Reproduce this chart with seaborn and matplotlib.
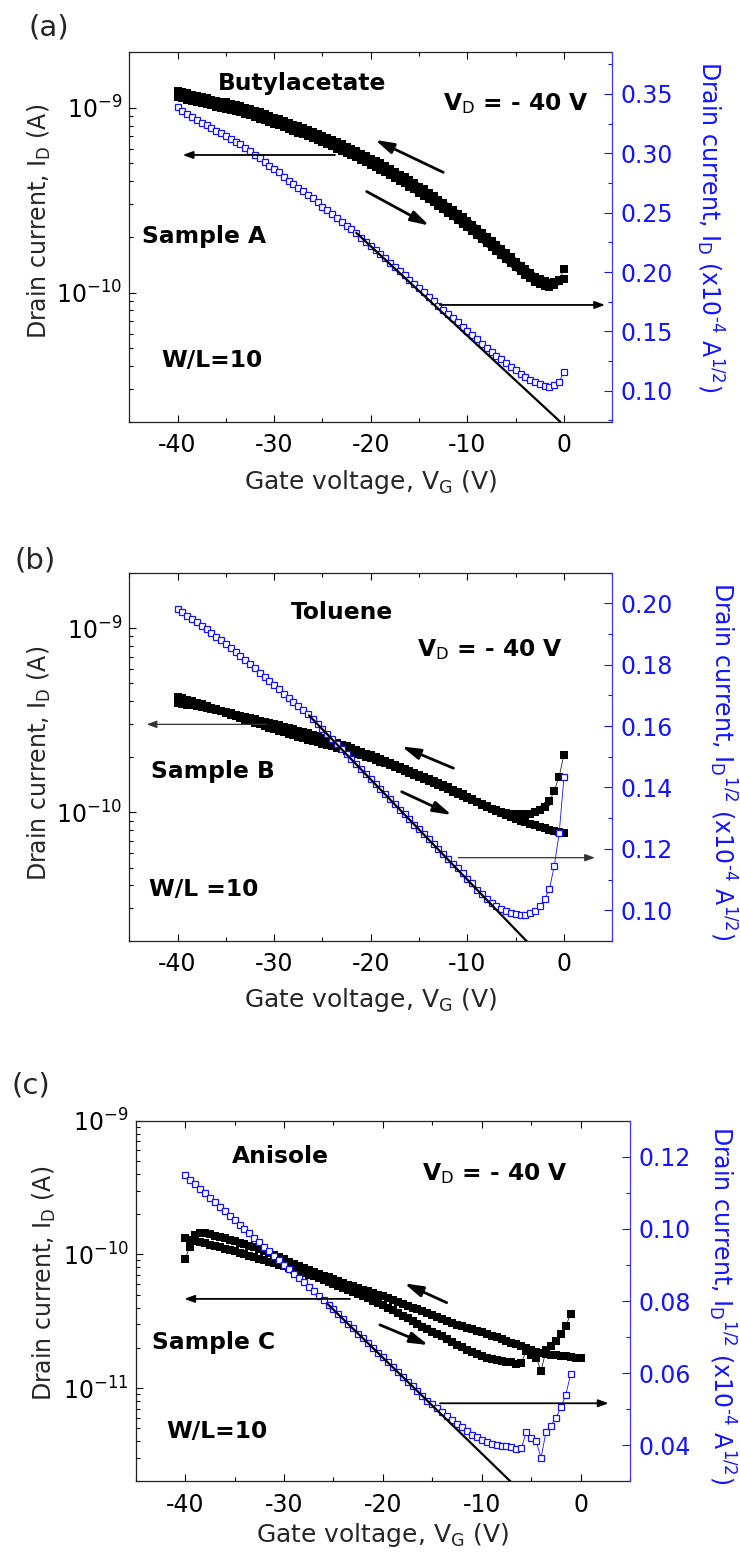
import numpy as np
import pandas as pd
import matplotlib
matplotlib.use("Agg")
import matplotlib.pyplot as plt
import seaborn as sns
from matplotlib.ticker import MultipleLocator, LogLocator, NullFormatter, FormatStrFormatter

# ---------------- data ----------------
# gate-voltage sweep grid (V)
vg = np.arange(-40.0, 0.25, 0.5)

# (a) Butylacetate: sqrt(I_D) in 1e-4 A^1/2 (blue) and other sweep I_D in 1e-10 A
a_sqrt = [0.3393, 0.3357, 0.3329, 0.3301, 0.3278, 0.3258, 0.3239, 0.3211, 0.3188, 0.3169,
          0.3146, 0.3118, 0.3098, 0.3076, 0.3048, 0.3020, 0.2986, 0.2958, 0.2924, 0.2893,
          0.2865, 0.2840, 0.2803, 0.2770, 0.2744, 0.2711, 0.2683, 0.2649, 0.2621, 0.2587,
          0.2551, 0.2522, 0.2486, 0.2452, 0.2424, 0.2390, 0.2360, 0.2326, 0.2289, 0.2256,
          0.2219, 0.2185, 0.2149, 0.2115, 0.2079, 0.2042, 0.2008, 0.1975, 0.1935, 0.1902,
          0.1862, 0.1829, 0.1789, 0.1756, 0.1716, 0.1680, 0.1643, 0.1610, 0.1576, 0.1537,
          0.1503, 0.1469, 0.1433, 0.1396, 0.1360, 0.1329, 0.1295, 0.1264, 0.1230, 0.1202,
          0.1171, 0.1143, 0.1118, 0.1093, 0.1070, 0.1053, 0.1039, 0.1034, 0.1048, 0.1076,
          0.1160]
a_rev = [12.4, 12.2, 12.0, 11.8, 11.6, 11.45, 11.3, 11.1, 10.95, 10.8,
         10.7, 10.5, 10.35, 10.2, 10.0, 9.85, 9.65, 9.45, 9.25, 9.05,
         8.85, 8.7, 8.5, 8.3, 8.1, 7.95, 7.75, 7.6, 7.4, 7.2,
         7.05, 6.85, 6.7, 6.5, 6.35, 6.15, 6.0, 5.85, 5.65, 5.5,
         5.3, 5.15, 5.0, 4.85, 4.67, 4.5, 4.35, 4.2, 4.05, 3.9,
         3.75, 3.62, 3.46, 3.33, 3.18, 3.05, 2.92, 2.8, 2.68, 2.55,
         2.44, 2.33, 2.21, 2.1, 2.0, 1.91, 1.81, 1.72, 1.63, 1.55,
         1.47, 1.4, 1.34, 1.28, 1.22, 1.18, 1.15, 1.13, 1.14, 1.17,
         1.18]
fit_a_v = [-21.5, -0.4]
fit_a_s = [0.233, 0.074]

# (b) Toluene
b_sqrt = [0.1982, 0.1971, 0.1960, 0.1949, 0.1938, 0.1926, 0.1915, 0.1903, 0.1891, 0.1879,
          0.1867, 0.1854, 0.1841, 0.1828, 0.1814, 0.1801, 0.1788, 0.1774, 0.1761, 0.1747,
          0.1733, 0.1720, 0.1706, 0.1693, 0.1679, 0.1665, 0.1652, 0.1638, 0.1623, 0.1607,
          0.1590, 0.1574, 0.1558, 0.1541, 0.1525, 0.1509, 0.1492, 0.1476, 0.1459, 0.1443,
          0.1427, 0.1410, 0.1394, 0.1378, 0.1361, 0.1345, 0.1328, 0.1312, 0.1296, 0.1279,
          0.1264, 0.1247, 0.1231, 0.1215, 0.1200, 0.1184, 0.1168, 0.1152, 0.1136, 0.1120,
          0.1103, 0.1089, 0.1067, 0.1052, 0.1037, 0.1023, 0.1013, 0.1004, 0.0996, 0.0991,
          0.0987, 0.0986, 0.0986, 0.0990, 0.0999, 0.1015, 0.1035, 0.1070, 0.1145, 0.1250,
          0.1434]
b_rev = [4.20, 4.15, 4.08, 4.01, 3.94, 3.86, 3.78, 3.70, 3.62, 3.54,
         3.46, 3.39, 3.32, 3.25, 3.18, 3.12, 3.06, 3.00, 2.94, 2.88,
         2.82, 2.77, 2.72, 2.67, 2.62, 2.57, 2.52, 2.48, 2.44, 2.40,
         2.36, 2.32, 2.28, 2.24, 2.20, 2.16, 2.12, 2.08, 2.04, 2.00,
         1.96, 1.92, 1.88, 1.84, 1.80, 1.76, 1.72, 1.68, 1.64, 1.60,
         1.56, 1.52, 1.48, 1.44, 1.40, 1.37, 1.33, 1.29, 1.26, 1.22,
         1.19, 1.16, 1.13, 1.10, 1.07, 1.04, 1.01, 0.985, 0.96, 0.94,
         0.92, 0.90, 0.88, 0.865, 0.85, 0.835, 0.82, 0.805, 0.79, 0.78,
         0.77]
fit_b_v = [-26.4, -3.8]
fit_b_s = [0.1635, 0.0897]

# (c) Anisole (blue sweep ends at -1 V)
c_sqrt = [0.1148, 0.1136, 0.1123, 0.1111, 0.1099, 0.1086, 0.1074, 0.1062, 0.1049, 0.1037,
          0.1025, 0.1012, 0.1000, 0.0988, 0.0975, 0.0963, 0.0951, 0.0938, 0.0926, 0.0913,
          0.0901, 0.0889, 0.0876, 0.0864, 0.0852, 0.0839, 0.0827, 0.0815, 0.0802, 0.0790,
          0.0777, 0.0764, 0.0750, 0.0737, 0.0724, 0.0710, 0.0697, 0.0684, 0.0670, 0.0657,
          0.0644, 0.0630, 0.0617, 0.0604, 0.0590, 0.0577, 0.0564, 0.0550, 0.0537, 0.0524,
          0.0514, 0.0503, 0.0493, 0.0481, 0.0469, 0.0459, 0.0450, 0.0439, 0.0430, 0.0423,
          0.0415, 0.0409, 0.0405, 0.0401, 0.0399, 0.0397, 0.0395, 0.0390, 0.0392, 0.0436,
          0.0420, 0.0411, 0.0366, 0.0437, 0.0455, 0.0476, 0.0505, 0.0540, 0.0598]
c_rev = [0.93, 1.14, 1.40, 1.44, 1.44, 1.41, 1.38, 1.35, 1.32, 1.29,
         1.26, 1.22, 1.19, 1.16, 1.13, 1.10, 1.065, 1.03, 0.995, 0.96,
         0.92, 0.88, 0.845, 0.815, 0.79, 0.76, 0.735, 0.71, 0.69, 0.675,
         0.65, 0.63, 0.61, 0.59, 0.575, 0.56, 0.545, 0.53, 0.515, 0.50,
         0.485, 0.47, 0.452, 0.438, 0.425, 0.41, 0.40, 0.387, 0.375, 0.362,
         0.35, 0.338, 0.326, 0.316, 0.307, 0.298, 0.29, 0.282, 0.275, 0.269,
         0.261, 0.254, 0.246, 0.239, 0.232, 0.225, 0.219, 0.212, 0.205, 0.198,
         0.192, 0.187, 0.182, 0.179, 0.177, 0.176, 0.175, 0.173, 0.171, 0.169,
         0.167]
fit_c_v = [-25.6, -6.9]
fit_c_s = [0.0792, 0.0295]

# ---------------- style ----------------
sns.set_style("ticks")
plt.rcParams["font.family"] = ["DejaVu Sans"]
plt.rcParams["mathtext.default"] = "regular"
plt.rcParams["axes.unicode_minus"] = False

BLUE = "#1414ff"
SPINE_BLUE = "#3a3aff"

fig = plt.figure(figsize=(7.4, 15.56), dpi=100)

VD = "V$_\\mathrm{D}$ = - 40 V"

panels = [
    dict(tag="(a)", tag_xy=(0.0385, 0.9769), rect=(0.1747, 0.7290, 0.6527, 0.2374),
         sqrt=a_sqrt, rev=a_rev, fv=fit_a_v, fs=fit_a_s,
         band_fwd=(0, 80), band_rev=(0, 81),
         ylim=(2e-11, 2e-9), rlim=(0.074, 0.385), rmaj=0.05, rmin=0.025,
         rlabel="Drain current, I$_D$ (x10$^{\u20104}$ A$^{1/2}$)",
         lcoord=(-0.187, 0.543), rcoord=(1.202, 0.529), xcoord=-0.126,
         texts=[("Butylacetate", 0.184, 0.898), (VD, 0.650, 0.844),
                ("Sample A", 0.026, 0.4846), ("W/L=10", 0.066, 0.149)],
         harrows=[((0.426, 0.722), (0.1106, 0.722)), ((0.643, 0.316), (0.985, 0.316))],
         darrows=[((0.650, 0.675), (0.509, 0.763)), ((0.4915, 0.623), (0.621, 0.531))],
         hcolor="black", hlw=1.3),
    dict(tag="(b)", tag_xy=(0.019, 0.6348), rect=(0.1747, 0.3953, 0.6527, 0.2367),
         sqrt=b_sqrt, rev=b_rev, fv=fit_b_v, fs=fit_b_s,
         band_fwd=(0, 78), band_rev=(0, 81),
         ylim=(2e-11, 2e-9), rlim=(0.09, 0.21), rmaj=0.02, rmin=0.01,
         rlabel="Drain current, I$_D$$^{1/2}$ (x10$^{\u20104}$ A$^{1/2}$)",
         lcoord=(-0.187, 0.482), rcoord=(1.229, 0.487), xcoord=-0.122,
         texts=[("Toluene", 0.334, 0.874), (VD, 0.595, 0.772),
                ("Sample B", 0.046, 0.4418), ("W/L =10", 0.0408, 0.122)],
         harrows=[((0.2845, 0.588), (0.036, 0.588)), ((0.681, 0.226), (0.964, 0.226))],
         darrows=[((0.671, 0.469), (0.564, 0.528)), ((0.564, 0.405), (0.6675, 0.342))],
         hcolor="#333333", hlw=0.9),
    dict(tag="(c)", tag_xy=(0.0162, 0.2972), rect=(0.1834, 0.0479, 0.668, 0.2319),
         sqrt=c_sqrt, rev=c_rev, fv=fit_c_v, fs=fit_c_s,
         band_fwd=(1, 68), band_rev=(2, 81),
         ylim=(2e-12, 1e-9), rlim=(0.03, 0.13), rmaj=0.02, rmin=0.01,
         rlabel="Drain current, I$_D$$^{1/2}$ (x10$^{\u20104}$ A$^{1/2}$)",
         lcoord=(-0.1855, 0.550), rcoord=(1.186, 0.489), xcoord=-0.109,
         texts=[("Anisole", 0.1954, 0.882), (VD, 0.5786, 0.8356),
                ("Sample C", 0.0336, 0.3664), ("W/L=10", 0.0613, 0.1214)],
         harrows=[((0.4335, 0.506), (0.0983, 0.506)), ((0.6157, 0.2167), (0.9567, 0.2167))],
         darrows=[((0.629, 0.4956), (0.5434, 0.549)), ((0.494, 0.434), (0.592, 0.378))],
         hcolor="black", hlw=1.3),
]

for p in panels:
    ax = fig.add_axes(p["rect"])
    ax.set_yscale("log")
    n = len(p["sqrt"])
    s = np.array(p["sqrt"])
    df_fwd = pd.DataFrame({"V": vg[:n], "I": (s * 1e-4) ** 2})
    df_rev = pd.DataFrame({"V": vg[:len(p["rev"])], "I": np.array(p["rev"]) * 1e-10})
    df_sq = pd.DataFrame({"V": vg[:n], "S": s})
    df_fit = pd.DataFrame({"V": p["fv"], "S": p["fs"]})

    # dense measured points merge into a solid band
    for df, (i0, i1) in ((df_rev, p["band_rev"]), (df_fwd, p["band_fwd"])):
        sns.lineplot(data=df.iloc[i0:i1], x="V", y="I", ax=ax, color="black",
                     linewidth=4.5, estimator=None, sort=False, legend=False, zorder=2)
        sns.lineplot(data=df, x="V", y="I", ax=ax, color="black", linewidth=0.5,
                     marker="s", markersize=6.0, markeredgewidth=0,
                     markerfacecolor="black", estimator=None, sort=False,
                     legend=False, zorder=3)

    ax.set_xlim(-45, 5)
    ax.set_ylim(*p["ylim"])
    ax.xaxis.set_major_locator(MultipleLocator(10))
    ax.xaxis.set_minor_locator(MultipleLocator(5))
    ax.yaxis.set_major_locator(LogLocator(base=10))
    ax.yaxis.set_minor_locator(LogLocator(base=10, subs=np.arange(2, 10)))
    ax.yaxis.set_minor_formatter(NullFormatter())
    ax.tick_params(which="both", direction="in", top=True, right=False,
                   left=True, bottom=True, labelsize=17, colors="black", width=0.8)
    ax.tick_params(which="major", length=5)
    ax.tick_params(which="minor", length=3)
    ax.tick_params(axis="x", pad=8)
    ax.tick_params(axis="y", pad=5)
    for sp in ("left", "top", "bottom"):
        ax.spines[sp].set_color("#222222")
        ax.spines[sp].set_linewidth(0.9)
    ax.spines["right"].set_visible(False)

    ax.set_xlabel("Gate voltage, V$_G$ (V)", fontsize=18, va="top")
    ax.xaxis.set_label_coords(0.5, p["xcoord"])
    ax.set_ylabel("Drain current, I$_D$ (A)", fontsize=17, va="center")
    ax.yaxis.set_label_coords(*p["lcoord"])

    ax2 = ax.twinx()
    sns.lineplot(data=df_sq, x="V", y="S", ax=ax2, color=BLUE, linewidth=0.6,
                 marker="s", markersize=3.7, markeredgewidth=0.9,
                 markeredgecolor=BLUE, markerfacecolor="white",
                 estimator=None, sort=False, legend=False, zorder=3)
    sns.lineplot(data=df_fit, x="V", y="S", ax=ax2, color="black", linewidth=1.6,
                 estimator=None, sort=False, legend=False, zorder=4)
    ax2.set_xlim(-45, 5)
    ax2.set_ylim(*p["rlim"])
    ax2.yaxis.set_major_locator(MultipleLocator(p["rmaj"]))
    ax2.yaxis.set_minor_locator(MultipleLocator(p["rmin"]))
    ax2.yaxis.set_major_formatter(FormatStrFormatter("%.2f"))
    ax2.tick_params(axis="y", which="both", direction="in", right=True, left=False,
                    colors=BLUE, labelsize=17, width=0.8, pad=6)
    ax2.tick_params(axis="y", which="major", length=6)
    ax2.tick_params(axis="y", which="minor", length=3)
    for sp in ("left", "top", "bottom"):
        ax2.spines[sp].set_visible(False)
    ax2.spines["right"].set_color(SPINE_BLUE)
    ax2.spines["right"].set_linewidth(0.9)
    ax2.set_xlabel("")
    ax2.set_ylabel(p["rlabel"], fontsize=17, color=BLUE, rotation=270, va="center")
    ax2.yaxis.set_label_coords(*p["rcoord"])

    for txt, fx, fy in p["texts"]:
        ax2.text(fx, fy, txt, transform=ax2.transAxes, fontsize=16.8,
                 fontweight="bold", ha="left", va="baseline", color="black", zorder=6)

    for tail, head in p["harrows"]:
        ax2.annotate("", xy=head, xytext=tail, xycoords="axes fraction",
                     textcoords="axes fraction", zorder=6,
                     arrowprops=dict(arrowstyle="-|>,head_length=0.6,head_width=0.22",
                                     color=p["hcolor"], lw=p["hlw"],
                                     mutation_scale=10, shrinkA=0, shrinkB=0))
    for tail, head in p["darrows"]:
        ax2.annotate("", xy=head, xytext=tail, xycoords="axes fraction",
                     textcoords="axes fraction", zorder=6,
                     arrowprops=dict(arrowstyle="-|>,head_length=0.55,head_width=0.16",
                                     color="black", lw=2.0,
                                     mutation_scale=20, shrinkA=0, shrinkB=0))

    fig.text(p["tag_xy"][0], p["tag_xy"][1], p["tag"], fontsize=21,
             ha="left", va="baseline")

fig.savefig("out.png", dpi=100)
